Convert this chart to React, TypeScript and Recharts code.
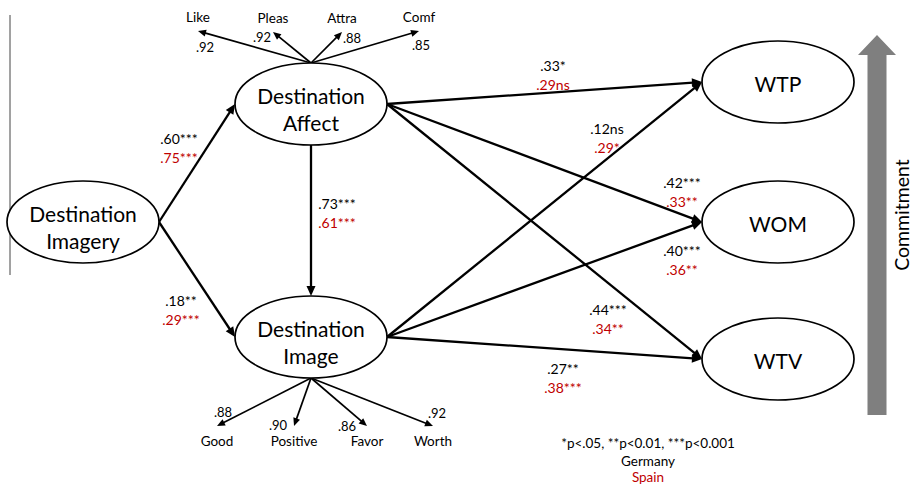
// SEM path diagram (Germany vs Spain coefficients) drawn on a hidden-axis Recharts canvas.
import { ReferenceLine, Scatter, ScatterChart, XAxis, YAxis } from 'recharts'

const W = 913
const H = 484
const FONT = 'Lato, "Open Sans", sans-serif'
const RED = '#c00000'
const RX = 76
const RY = 41

// latent constructs (diagram units = pixels)
const nodeIds = ['imagery', 'affect', 'image', 'wtp', 'wom', 'wtv']
const nodeLabels = [['Destination', 'Imagery'], ['Destination', 'Affect'], ['Destination', 'Image'], ['WTP'], ['WOM'], ['WTV']]
const nodeX = [83, 311, 311, 778, 778, 778]
const nodeY = [222, 104, 337, 82, 222, 359]

// structural paths and their standardised coefficients
const pathFrom = ['imagery', 'imagery', 'affect', 'affect', 'affect', 'affect', 'image', 'image', 'image']
const pathTo = ['affect', 'image', 'image', 'wtp', 'wom', 'wtv', 'wtp', 'wom', 'wtv']
const germanyCoef = ['.60***', '.18**', '.73***', '.33*', '.42***', '.44***', '.12ns', '.40***', '.27**']
const spainCoef = ['.75***', '.29***', '.61***', '.29ns', '.33**', '.34**', '.29*', '.36**', '.38***']
const coefX = [179, 181, 337, 553, 682, 608, 607, 682, 563]
const coefY = [138, 300, 203, 65, 182, 309, 128, 250, 368]

// measurement items
const affectItems = ['Like', 'Pleas', 'Attra', 'Comf']
const affectLoadings = ['.92', '.92', '.88', '.85']
const affectTipX = [198, 273, 342, 419]
const affectTipY = [31, 32, 32, 31]
const affectLoadX = [205, 262, 352, 421]
const affectLoadY = [47, 37, 38, 45]

const imageItems = ['Good', 'Positive', 'Favor', 'Worth']
const imageLoadings = ['.88', '.90', '.86', '.92']
const imageTipX = [217, 294, 367, 433]
const imageTipY = [426, 426, 426, 426]
const imageLoadX = [223, 278, 347, 437]
const imageLoadY = [412, 425, 426, 413]

const footnote = ['*p<.05, **p<0.01, ***p<0.001', 'Germany', 'Spain']

const node = (id: string) => {
  const i = nodeIds.indexOf(id)
  return { x: nodeX[i], y: nodeY[i] }
}

const port = (id: string, side: 'l' | 'r' | 't' | 'b') => {
  const n = node(id)
  if (side === 'l') return { x: n.x - RX, y: n.y }
  if (side === 'r') return { x: n.x + RX, y: n.y }
  if (side === 't') return { x: n.x, y: n.y - RY }
  return { x: n.x, y: n.y + RY }
}

const arrow = (sw: number, len: number, half: number) => (p: any) => {
  const { x1, y1, x2, y2 } = p
  const dx = x2 - x1
  const dy = y2 - y1
  const d = Math.hypot(dx, dy) || 1
  const ux = dx / d
  const uy = dy / d
  const bx = x2 - ux * len
  const by = y2 - uy * len
  const pts = `${x2},${y2} ${bx - uy * half},${by + ux * half} ${bx + uy * half},${by - ux * half}`
  return (
    <g>
      <line x1={x1} y1={y1} x2={bx + ux * 1} y2={by + uy * 1} stroke="#000" strokeWidth={sw} />
      <polygon points={pts} fill="#000" />
    </g>
  )
}

const bigArrow = (p: any) => {
  const { x1, y1, y2 } = p
  const shaft = 9.5
  const head = 19
  const headLen = 20
  const pts = [
    [x1 - shaft, y1],
    [x1 - shaft, y2 + headLen],
    [x1 - head, y2 + headLen],
    [x1, y2],
    [x1 + head, y2 + headLen],
    [x1 + shaft, y2 + headLen],
    [x1 + shaft, y1],
  ]
    .map((q) => q.join(','))
    .join(' ')
  const tx = x1 + 24
  const ty = 215
  return (
    <g>
      <polygon points={pts} fill="#7f7f7f" />
      <text
        x={0}
        y={0}
        transform={`translate(${tx} ${ty}) rotate(-90)`}
        textAnchor="middle"
        dominantBaseline="central"
        fontFamily={FONT}
        fontSize={19.5}
        fill="#000"
      >
        Commitment
      </text>
    </g>
  )
}

const nodeData = nodeIds.map((id, i) => ({ x: nodeX[i], y: nodeY[i], lines: nodeLabels[i] }))
const coefData = germanyCoef.map((de, i) => ({ x: coefX[i], y: coefY[i], de, es: spainCoef[i] }))
const itemLabelData = [
  ...affectItems.map((t, i) => ({ x: affectTipX[i], y: affectTipY[i] - 14, t })),
  ...imageItems.map((t, i) => ({ x: imageTipX[i], y: imageTipY[i] + 15, t })),
]
const loadingData = [
  ...affectLoadings.map((t, i) => ({ x: affectLoadX[i], y: affectLoadY[i], t })),
  ...imageLoadings.map((t, i) => ({ x: imageLoadX[i], y: imageLoadY[i], t })),
]
const noteData = [{ x: 648, y: 443 }]

const portsFor = (from: string, to: string) => {
  if (from === 'affect' && to === 'image') return [port(from, 'b'), port(to, 't')]
  return [port(from, 'r'), port(to, 'l')]
}

function NodeShape({ cx, cy, payload }: any) {
  const lines: string[] = payload.lines
  const offs = lines.length === 2 ? [-9, 18] : [1]
  return (
    <g>
      <ellipse cx={cx} cy={cy} rx={RX} ry={RY} fill="#fff" stroke="#000" strokeWidth={1.7} />
      {lines.map((l, i) => (
        <text key={i} x={cx} y={cy + offs[i]} textAnchor="middle" dominantBaseline="central" fontFamily={FONT} fontSize={21} fill="#000">
          {l}
        </text>
      ))}
    </g>
  )
}

function CoefShape({ cx, cy, payload }: any) {
  return (
    <g fontFamily={FONT} fontSize={14} textAnchor="middle">
      <text x={cx} y={cy} dominantBaseline="central" fill="#000">{payload.de}</text>
      <text x={cx} y={cy + 19} dominantBaseline="central" fill={RED}>{payload.es}</text>
    </g>
  )
}

const textShape = (size: number) => ({ cx, cy, payload }: any) => (
  <text x={cx} y={cy} textAnchor="middle" dominantBaseline="central" fontFamily={FONT} fontSize={size} fill="#000">
    {payload.t}
  </text>
)

function NoteShape({ cx, cy }: any) {
  return (
    <g fontFamily={FONT} fontSize={13.5} textAnchor="middle">
      <text x={cx} y={cy} dominantBaseline="central" fill="#000">{footnote[0]}</text>
      <text x={cx} y={cy + 18} dominantBaseline="central" fill="#000">{footnote[1]}</text>
      <text x={cx} y={cy + 34} dominantBaseline="central" fill={RED}>{footnote[2]}</text>
    </g>
  )
}

export default function App() {
  const affectTop = port('affect', 't')
  const imageBottom = port('image', 'b')
  return (
    <div style={{ position: 'absolute', left: 0, top: 0, background: '#fff' }}>
      <ScatterChart width={W} height={H} margin={{ top: 0, right: 0, bottom: 0, left: 0 }}>
        <XAxis type="number" dataKey="x" domain={[0, W]} hide />
        <YAxis type="number" dataKey="y" domain={[0, H]} reversed hide />
        <ReferenceLine segment={[{ x: 10, y: 15 }, { x: 10, y: 275 }]} stroke="#444" strokeWidth={1} />
        {pathFrom.map((f, i) => {
          const [a, b] = portsFor(f, pathTo[i])
          return <ReferenceLine key={`p${i}`} segment={[a, b]} shape={arrow(2.3, 10, 4.5)} />
        })}
        {affectItems.map((_, i) => (
          <ReferenceLine
            key={`a${i}`}
            segment={[affectTop, { x: affectTipX[i], y: affectTipY[i] }]}
            shape={arrow(1.7, 8, 3.5)}
          />
        ))}
        {imageItems.map((_, i) => (
          <ReferenceLine
            key={`m${i}`}
            segment={[imageBottom, { x: imageTipX[i], y: imageTipY[i] }]}
            shape={arrow(1.7, 8, 3.5)}
          />
        ))}
        <ReferenceLine segment={[{ x: 877, y: 415 }, { x: 877, y: 35 }]} shape={bigArrow} />
        <Scatter data={nodeData} shape={NodeShape} isAnimationActive={false} />
        <Scatter data={coefData} shape={CoefShape} isAnimationActive={false} />
        <Scatter data={itemLabelData} shape={textShape(13.5)} isAnimationActive={false} />
        <Scatter data={loadingData} shape={textShape(13)} isAnimationActive={false} />
        <Scatter data={noteData} shape={NoteShape} isAnimationActive={false} />
      </ScatterChart>
    </div>
  )
}
